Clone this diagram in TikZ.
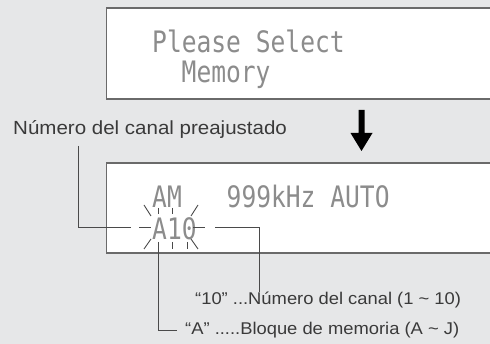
\documentclass[tikz,border=0pt]{standalone}
\usepackage{fontspec}
\setmainfont{Liberation Sans}
\newfontfamily\lcdfont{DejaVu Sans Mono}
\definecolor{bg}{HTML}{E6E7E8}
\definecolor{boxline}{HTML}{6A6A6A}
\definecolor{lcdgray}{HTML}{8C8C8C}
\definecolor{txt}{HTML}{3A3A3A}
\definecolor{conncol}{HTML}{4A4A4A}
\tikzset{
  lcdbox/.style={draw=boxline, line width=1.6pt, fill=white},
  lcd/.style={anchor=base west, inner sep=0pt, text=lcdgray,
    font=\lcdfont\fontsize{24.6}{24.6}\selectfont},
  lab/.style={anchor=base west, inner sep=0pt, text=txt,
    font=\fontsize{17}{17}\selectfont},
  biglab/.style={lab, font=\fontsize{19}{19}\selectfont},
  conn/.style={draw=conncol, line width=0.9pt},
  ray/.style={draw=conncol, line width=0.9pt},
}
\newcommand{\lcdtext}[1]{\scalebox{1}[1.2]{#1}}
\newcommand{\labtext}[1]{\scalebox{1.08}[1]{#1}}
\begin{document}
\begin{tikzpicture}[x=1pt,y=-1pt]
\fill[bg] (0,0) rectangle (490,344);
\useasboundingbox (0,0) rectangle (490,344);
\begin{scope}
  \clip (0,0) rectangle (490,344);
  \path[lcdbox] (106.5,8) rectangle (496,99);
  \path[lcdbox] (106.5,163) rectangle (496,253);
\end{scope}
% LCD texts
\node[lcd] (please) at (152,53) {\lcdtext{Please Select}};
\node[lcd] (memory) at (181.5,83) {\lcdtext{Memory}};
\node[lcd] (am) at (152,208) {\lcdtext{AM}};
\node[lcd] (freq) at (226.5,208) {\lcdtext{999kHz AUTO}};
\node[lcd] (a10) at (152,240) {\lcdtext{A10}};
% blinking rays
\draw[ray] (144,205) -- (151,216);
\draw[ray] (158,208) -- (158,214);
\draw[ray] (172,208) -- (172,214);
\draw[ray] (198,205) -- (191,216);
\draw[ray] (139,227.5) -- (151,227.5);
\draw[ray] (193,227.5) -- (205,227.5);
\draw[ray] (144,249) -- (151,239);
\draw[ray] (172,242) -- (172,249);
\draw[ray] (187,242) -- (187,249);
\draw[ray] (191,239) -- (198,249);
% arrow
\fill[black] (358.5,110) -- (364.5,110) -- (364.5,133) -- (372.5,133) -- (361.5,151)
  -- (350.5,133) -- (358.5,133) -- cycle;
% labels
\node[biglab] (preaj) at (13,135) {\labtext{Número del canal preajustado}};
\node[lab] (canal) at (195,305) {\labtext{“10” ...Número del canal (1 \textasciitilde{} 10)}};
\node[lab] (bloque) at (185,335) {\labtext{“A” .....Bloque de memoria (A \textasciitilde{} J)}};
% connector ends
\coordinate (p1) at (78,146);
\coordinate (p2) at (131,227.5);
\coordinate (q1) at (215,227.5);
\coordinate (q2) at (259,292);
\coordinate (r1) at (158,242);
\coordinate (r2) at (177,330);
\draw[conn] (p1) |- (p2);
\draw[conn] (q1) -| (q2);
\draw[conn] (r1) |- (r2);
\end{tikzpicture}
\end{document}
